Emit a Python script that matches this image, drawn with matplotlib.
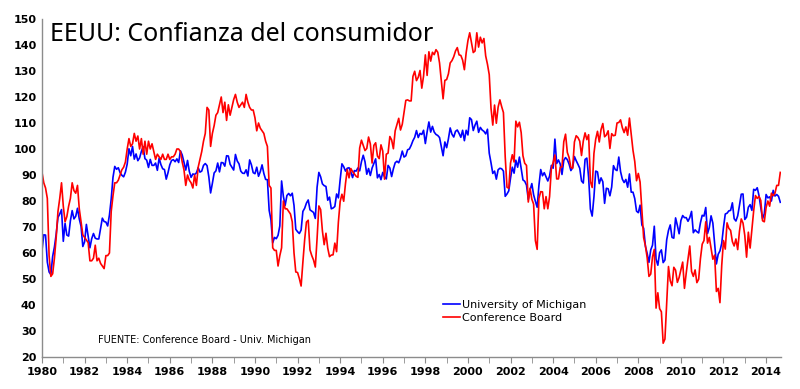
import numpy as np
import matplotlib.pyplot as plt
from matplotlib.ticker import MultipleLocator

# datos mensuales; el primer valor (dic-1979) se dibuja en 1980
inicio = 1980

michigan = [61.0,
    67.0, 66.9, 56.5, 52.7, 51.7, 58.7, 62.3, 67.3, 73.7, 75.0, 76.7, 64.5,  # 1980
    71.4, 66.9, 66.5, 72.4, 76.3, 73.1, 74.1, 77.2, 73.1, 70.3, 62.5, 64.3,  # 1981
    71.0, 66.5, 62.0, 65.5, 67.5, 65.7, 65.4, 65.4, 69.3, 73.4, 72.1, 71.9,  # 1982
    70.4, 74.6, 80.8, 89.1, 93.3, 92.2, 92.8, 90.9, 89.9, 89.3, 91.1, 94.2,  # 1983
    100.1, 97.4, 101.0, 96.1, 98.1, 95.5, 96.6, 99.1, 100.9, 96.3, 95.7, 92.9,  # 1984
    96.0, 93.7, 93.7, 94.6, 91.8, 96.5, 94.0, 92.4, 92.1, 88.4, 90.9, 93.9,  # 1985
    95.6, 95.9, 95.1, 96.2, 94.8, 99.3, 97.7, 94.9, 91.9, 95.6, 91.4, 89.1,  # 1986
    90.4, 90.2, 90.8, 92.8, 91.1, 91.5, 93.7, 94.4, 93.6, 89.3, 83.1, 86.8,  # 1987
    90.8, 91.6, 94.6, 91.2, 94.8, 94.7, 93.4, 97.4, 97.3, 94.1, 93.0, 91.9,  # 1988
    97.9, 95.4, 94.3, 91.5, 90.7, 90.6, 92.0, 89.6, 95.8, 93.9, 90.9, 90.5,  # 1989
    93.0, 89.5, 91.3, 93.9, 90.6, 88.3, 88.2, 76.4, 72.8, 63.9, 66.0, 65.5,  # 1990
    66.8, 70.4, 87.7, 81.8, 78.3, 82.1, 82.9, 82.0, 83.0, 78.3, 69.1, 68.2,  # 1991
    67.5, 68.8, 76.0, 77.2, 79.2, 80.4, 76.6, 76.1, 75.6, 73.3, 85.3, 91.0,  # 1992
    89.3, 86.6, 85.9, 85.6, 80.3, 81.5, 77.0, 77.3, 77.9, 82.7, 81.2, 88.2,  # 1993
    94.3, 93.2, 91.5, 92.6, 92.8, 91.2, 89.0, 91.7, 91.5, 92.7, 91.6, 95.1,  # 1994
    97.6, 95.1, 90.3, 92.5, 89.8, 92.7, 94.4, 96.2, 88.9, 90.2, 88.2, 91.0,  # 1995
    89.3, 88.5, 93.7, 92.7, 89.4, 92.4, 94.7, 95.3, 94.7, 96.5, 99.2, 96.9,  # 1996
    97.4, 99.7, 100.0, 101.4, 103.2, 104.5, 107.1, 104.4, 106.0, 105.6, 107.2, 102.1,  # 1997
    106.6, 110.4, 106.5, 108.7, 106.5, 105.6, 105.2, 104.4, 100.9, 97.4, 102.7, 100.5,  # 1998
    103.9, 108.1, 105.7, 104.6, 106.8, 107.3, 106.0, 104.5, 107.2, 103.2, 107.2, 105.4,  # 1999
    112.0, 111.3, 107.1, 109.2, 110.7, 106.4, 108.3, 107.3, 106.8, 105.8, 107.6, 98.4,  # 2000
    94.7, 90.6, 91.5, 88.4, 92.0, 92.6, 92.4, 91.5, 81.8, 82.7, 83.9, 88.8,  # 2001
    93.0, 90.7, 95.7, 93.0, 96.9, 92.4, 88.1, 87.6, 86.1, 80.6, 84.2, 86.7,  # 2002
    82.4, 79.9, 77.6, 86.0, 92.1, 89.7, 90.9, 89.3, 87.7, 89.6, 93.7, 92.6,  # 2003
    103.8, 94.4, 95.8, 94.2, 90.2, 95.6, 96.7, 95.9, 94.2, 91.7, 92.8, 97.1,  # 2004
    95.5, 94.1, 92.6, 87.7, 86.9, 96.0, 96.5, 89.1, 76.9, 74.2, 81.6, 91.5,  # 2005
    91.2, 86.7, 88.9, 87.4, 79.1, 84.9, 84.7, 82.0, 85.4, 93.6, 92.1, 91.7,  # 2006
    96.9, 91.3, 88.4, 87.1, 88.3, 85.3, 90.4, 83.4, 83.4, 80.9, 76.1, 75.5,  # 2007
    78.4, 70.8, 69.5, 62.6, 59.8, 56.4, 61.2, 63.0, 70.3, 57.6, 55.3, 60.1,  # 2008
    61.2, 56.3, 57.3, 65.1, 68.7, 70.8, 66.0, 65.7, 73.5, 70.6, 67.4, 72.5,  # 2009
    74.4, 73.6, 73.6, 72.2, 73.6, 76.0, 67.8, 68.9, 68.2, 67.7, 71.6, 74.5,  # 2010
    74.2, 77.5, 67.5, 69.8, 74.3, 71.5, 63.7, 55.8, 59.5, 60.8, 63.7, 69.9,  # 2011
    75.0, 75.3, 76.2, 76.4, 79.3, 73.2, 72.3, 74.3, 78.3, 82.6, 82.7, 72.9,  # 2012
    73.8, 77.6, 78.6, 76.4, 84.5, 84.1, 85.1, 82.1, 77.5, 73.2, 75.1, 82.5,  # 2013
    81.2, 81.6, 80.0, 84.1, 81.9, 82.5, 81.8, 79.5]  # 2014

conference = [91,
    87, 85, 81, 59, 51, 52, 58, 66, 76, 81, 87, 78,  # 1980
    72, 74, 78, 81, 87, 84, 83, 86, 77, 72, 67, 66,  # 1981
    65, 64, 57, 57, 58, 63, 57, 58, 56, 55, 54, 59,  # 1982
    59, 60, 76, 82, 87, 87, 88, 90, 92, 93, 95, 100,  # 1983
    104, 101, 102, 106, 103, 105, 100, 104, 98, 103, 98, 103,  # 1984
    100, 102, 99, 96, 98, 97, 96, 98, 96, 96, 98, 96,  # 1985
    97, 97, 98, 100, 100, 99, 95, 92, 86, 90, 88, 87,  # 1986
    85, 90, 86, 93, 96, 99, 103, 106, 116, 115, 101, 106,  # 1987
    109, 113, 114, 117, 120, 114, 118, 111, 117, 113, 116, 119,  # 1988
    121, 118, 116, 117, 118, 116, 121, 118, 116, 115, 115, 112,  # 1989
    107, 110, 108, 107, 106, 103, 101, 86, 85, 62, 61, 61,  # 1990
    55, 59, 62, 80, 77, 77, 76, 75, 72, 60, 52.7, 52.5,  # 1991
    50.2, 47.3, 56.5, 65.1, 71.9, 72.6, 61.2, 59.0, 57.3, 54.6, 65.6, 78.1,  # 1992
    76.7, 68.5, 63.2, 67.6, 61.9, 58.6, 59.2, 59.3, 63.8, 60.5, 71.9, 79.8,  # 1993
    82.6, 79.9, 86.7, 92.1, 88.9, 92.5, 91.3, 90.4, 89.5, 89.1, 100.4, 103.4,  # 1994
    101.4, 99.4, 100.2, 104.6, 102.0, 94.6, 101.4, 102.4, 97.3, 96.3, 101.6, 99.2,  # 1995
    88.4, 98.0, 98.4, 104.8, 103.5, 100.1, 107.0, 109.4, 111.8, 107.3, 109.5, 114.2,  # 1996
    118.7, 118.9, 118.5, 118.5, 127.9, 129.9, 126.3, 127.6, 130.2, 123.4, 128.1, 136.2,  # 1997
    128.3, 137.4, 133.8, 137.2, 136.3, 138.2, 137.2, 133.1, 126.4, 119.3, 126.4, 126.7,  # 1998
    128.9, 133.1, 134.0, 135.5, 137.7, 139.0, 136.2, 136.0, 134.2, 130.5, 137.0, 141.7,  # 1999
    144.7, 140.8, 137.1, 137.7, 144.7, 139.2, 143.0, 140.8, 142.5, 135.8, 132.6, 128.6,  # 2000
    115.7, 109.2, 116.9, 109.9, 116.1, 118.9, 116.3, 114.0, 97.0, 85.3, 84.9, 94.6,  # 2001
    97.8, 95.0, 110.7, 108.5, 110.3, 106.3, 97.4, 94.5, 93.7, 79.6, 84.9, 80.7,  # 2002
    78.8, 64.8, 61.4, 81.0, 83.6, 83.5, 77.0, 81.7, 77.0, 81.7, 92.5, 94.8,  # 2003
    97.7, 88.5, 88.5, 93.0, 93.1, 102.8, 105.7, 98.7, 96.7, 92.9, 92.6, 102.7,  # 2004
    105.1, 104.4, 103.0, 97.5, 103.1, 106.2, 103.6, 105.5, 87.5, 85.2, 98.3, 103.8,  # 2005
    106.8, 102.7, 107.5, 109.8, 104.7, 105.4, 107.0, 100.2, 105.9, 105.1, 105.3, 110.0,  # 2006
    110.2, 111.2, 108.2, 106.3, 108.5, 105.3, 111.9, 105.6, 99.5, 95.2, 87.8, 90.6,  # 2007
    87.3, 76.4, 65.9, 62.8, 58.1, 51.0, 51.9, 58.5, 61.4, 38.8, 44.7, 38.6,  # 2008
    37.4, 25.3, 26.9, 40.8, 54.8, 49.3, 47.4, 54.5, 53.4, 48.7, 50.6, 53.6,  # 2009
    56.5, 46.4, 52.3, 57.7, 62.7, 52.9, 51.0, 53.5, 48.6, 49.9, 57.8, 63.4,  # 2010
    64.8, 72.0, 63.8, 66.0, 61.7, 57.6, 59.2, 45.2, 46.4, 40.9, 55.2, 64.8,  # 2011
    61.5, 71.6, 69.5, 68.7, 64.4, 62.7, 65.4, 61.3, 68.4, 73.1, 71.5, 66.7,  # 2012
    58.4, 68.0, 61.9, 69.0, 76.2, 82.1, 81.0, 81.8, 80.2, 72.4, 72.0, 77.5,  # 2013
    80, 78, 83, 82, 83, 86, 86, 91]  # 2014

x = inicio + np.arange(len(michigan)) / 12.0

fig = plt.figure(figsize=(8, 3.89), dpi=100)
ax = fig.add_axes([42/800, 1-357/389, (781-42)/800, (357-19)/389])

ax.plot(x, michigan, color='#0000FF', lw=1.2, label='University of Michigan')
ax.plot(x, conference, color='#FF0000', lw=1.2, label='Conference Board')

ax.set_xlim(1980, 2014.7)
ax.set_ylim(20, 150)
ax.yaxis.set_major_locator(MultipleLocator(10))
ax.xaxis.set_major_locator(MultipleLocator(2))
ax.xaxis.set_minor_locator(MultipleLocator(1))

for s in ['top', 'right']:
    ax.spines[s].set_visible(False)
for s in ['left', 'bottom']:
    ax.spines[s].set_color('#8c8c8c')
    ax.spines[s].set_linewidth(1.0)

ax.tick_params(axis='y', length=0, pad=4, labelsize=8)
ax.tick_params(axis='x', which='both', direction='out', length=4,
               color='#8c8c8c', pad=3, labelsize=8)
for lab in ax.get_xticklabels() + ax.get_yticklabels():
    lab.set_fontweight('bold')

fig.text(50/800, 1-41/389, 'EEUU: Confianza del consumidor',
         fontsize=18, family='Noto Sans', va='baseline')
fig.text(98/800, 1-340/389, 'FUENTE: Conference Board - Univ. Michigan',
         fontsize=7, va='center')

ax.legend(loc='upper left', bbox_to_anchor=(443/800, 1-300/389),
          bbox_transform=fig.transFigure, frameon=False, fontsize=8,
          handlelength=1.5, handletextpad=0.2, labelspacing=0.3,
          borderaxespad=0, borderpad=0)

fig.savefig('out.png', dpi=100)
